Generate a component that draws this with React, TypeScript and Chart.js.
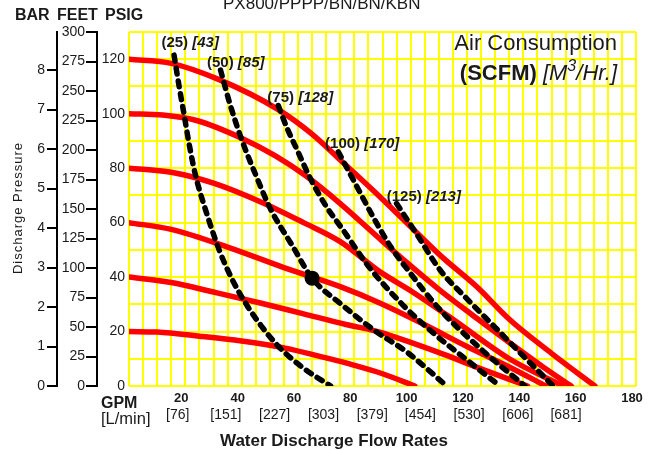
import React, { useEffect, useRef } from "react";
import { Chart, registerables } from "chart.js";

Chart.register(...registerables);

const FONT = '"Liberation Sans", Arial, Helvetica, sans-serif';
const TEXT = "#1a1a1a";
const GRID = "#ffff00";

// Axis ticks
const gpmLabels = [20, 40, 60, 80, 100, 120, 140, 160, 180];
const lpmLabels = [76, 151, 227, 303, 379, 454, 530, 606, 681];
const psiLabels = [0, 20, 40, 60, 80, 100, 120];
const feetTicks = [0, 25, 50, 75, 100, 125, 150, 175, 200, 225, 250, 275, 300];
const barTicks = [0, 1, 2, 3, 4, 5, 6, 7, 8];

// Pump curves at air inlet pressure (psig): [GPM, discharge psig]
const psi20: number[][] = [[0, 20], [10, 19.8], [25, 18.3], [40, 16.5], [55, 14], [70, 10.3], [80, 7.6], [90, 4.5], [101.5, 0]];
const psi40: number[][] = [[0, 40], [15, 38], [30, 34.5], [47, 30.4], [62, 26.5], [77, 22.6], [89, 19.8], [100, 16], [112, 11.5], [125, 6.3], [141.5, 0]];
const psi60: number[][] = [[0, 60], [15, 57.5], [35, 51], [55, 43.5], [75, 36.5], [89, 30.5], [105, 22.5], [120, 14.5], [135, 7], [148, 0]];
const psi80: number[][] = [[0, 80], [15, 78.5], [30, 74.5], [47, 67.5], [62, 60], [75, 53], [89, 42], [100, 35], [115, 24.5], [135, 10], [154, 0]];
const psi100: number[][] = [[0, 100], [12, 99.5], [24, 97.5], [40, 91], [52, 84.5], [63, 77], [75, 67], [88, 55], [99, 45], [110, 35.5], [122, 26], [135, 16], [147, 7], [157, 0]];
const psi120: number[][] = [[0, 120], [15, 118.5], [32, 112.5], [53, 101.5], [65, 92.5], [75, 83], [87, 71.5], [99, 59.5], [111, 47.5], [123.4, 36.5], [135, 24.5], [150, 12], [165.4, 0]];

// Air consumption curves (SCFM): [GPM, discharge psig]
const scfm25: number[][] = [[16, 121.5], [17.8, 110], [19.5, 100], [21.5, 88], [23.7, 77], [27.2, 64.6], [32, 50], [36.7, 39], [41.4, 30.4], [47, 22], [53.2, 14.4], [62, 6.5], [71.6, 0]];
const scfm50: number[][] = [[32.5, 116], [36, 103], [40, 90.5], [45, 77.5], [50, 65.5], [58, 51.5], [65, 39.6], [76, 29.5], [87, 20.5], [98.6, 12.5], [112.8, 0]];
const scfm75: number[][] = [[53, 103], [56, 95], [60, 86], [64, 77], [70, 66], [76, 57.3], [85, 44], [97, 30], [108, 19.5], [120, 9.5], [131.7, 0]];
const scfm100: number[][] = [[74.3, 86], [80, 75], [87, 61.5], [93, 51], [99, 42.6], [110, 28.5], [125, 13.5], [140.6, 0]];
const scfm125: number[][] = [[95, 67], [102, 56], [110.5, 42.5], [120, 32], [130, 21.5], [140, 11], [150.6, 0]];

// Air consumption labels: SCFM, [M3/Hr], anchor [GPM, psig]
const scfmNames = ["(25)", "(50)", "(75)", "(100)", "(125)"];
const m3hNames = ["[43]", "[85]", "[128]", "[170]", "[213]"];
const scfmLabelAt: number[][] = [[11.5, 126], [27.7, 118.6], [49.1, 105.8], [69.6, 89.1], [91.5, 69.5]];

// Operating point
const opPoint = [{ x: 65, y: 39.6 }];

const PSI_PER_BAR = 14.5038;
const FT_PER_PSI = 2.3077;

const toXY = (arr: number[][]) => arr.map(([x, y]) => ({ x, y }));

const redSets = [psi20, psi40, psi60, psi80, psi100, psi120];
const blackSets = [scfm25, scfm50, scfm75, scfm100, scfm125];

const textPlugin = {
  id: "textPlugin",
  afterDraw(chart: any) {
    const ctx = chart.ctx as CanvasRenderingContext2D;
    const xs = chart.scales.x;
    const ys = chart.scales.y;
    ctx.save();
    ctx.fillStyle = TEXT;
    ctx.textBaseline = "alphabetic";
    ctx.textAlign = "left";

    // Top header
    ctx.font = `17px ${FONT}`;
    ctx.fillText("PX800/PPPP/BN/BN/KBN", 223, 9);
    ctx.font = `bold 16px ${FONT}`;
    ctx.fillText("BAR", 15, 19.5);
    ctx.fillText("FEET", 57, 19.5);
    ctx.fillText("PSIG", 105, 19.5);

    // Air consumption legend
    ctx.textAlign = "right";
    ctx.font = `22px ${FONT}`;
    ctx.fillText("Air Consumption", 617, 50);
    ctx.textAlign = "left";
    const parts: [string, string, number][] = [
      ["(SCFM)", `bold 22px ${FONT}`, 0],
      [" [M", `italic 22px ${FONT}`, 0],
      ["3", `italic 16px ${FONT}`, -9],
      ["/Hr.]", `italic 22px ${FONT}`, 0],
    ];
    let total = 0;
    for (const [t, f] of parts) {
      ctx.font = f;
      total += ctx.measureText(t).width;
    }
    let px = 617 - total;
    for (const [t, f, dy] of parts) {
      ctx.font = f;
      ctx.fillText(t, px, 80 + dy);
      px += ctx.measureText(t).width;
    }

    // Air consumption curve labels
    ctx.textBaseline = "middle";
    for (let i = 0; i < scfmNames.length; i++) {
      const lx = xs.getPixelForValue(scfmLabelAt[i][0]);
      const ly = ys.getPixelForValue(scfmLabelAt[i][1]);
      ctx.font = `bold 15px ${FONT}`;
      const a = scfmNames[i] + " ";
      ctx.fillText(a, lx, ly);
      const w = ctx.measureText(a).width;
      ctx.font = `italic bold 15px ${FONT}`;
      ctx.fillText(m3hNames[i], lx + w, ly);
    }

    // Bottom captions
    ctx.textBaseline = "alphabetic";
    ctx.font = `bold 16px ${FONT}`;
    ctx.fillText("GPM", 101, 408);
    ctx.font = `16.5px ${FONT}`;
    ctx.fillText("[L/min]", 101, 424);
    ctx.textAlign = "center";
    ctx.font = `bold 17px ${FONT}`;
    ctx.fillText("Water Discharge Flow Rates", 334, 446);

    // Rotated axis title
    ctx.save();
    ctx.translate(18, 208);
    ctx.rotate(-Math.PI / 2);
    (ctx as any).letterSpacing = "1px";
    ctx.font = `13px ${FONT}`;
    ctx.textAlign = "center";
    ctx.textBaseline = "middle";
    ctx.fillText("Discharge Pressure", 0, 0);
    ctx.restore();

    ctx.restore();
  },
};

export default function App() {
  const ref = useRef<HTMLCanvasElement | null>(null);

  useEffect(() => {
    document.body.style.margin = "0";
    const canvas = ref.current;
    if (!canvas) return;

    const datasets: any[] = [];
    datasets.push({
      type: "scatter",
      data: opPoint,
      pointRadius: 7.5,
      pointBackgroundColor: "#000",
      pointBorderWidth: 0,
      order: 0,
    });
    blackSets.forEach((s) =>
      datasets.push({
        type: "line",
        data: toXY(s),
        borderColor: "#000",
        borderWidth: 5.5,
        borderDash: [6, 7],
        borderCapStyle: "round",
        pointRadius: 0,
        cubicInterpolationMode: "monotone",
        fill: false,
        order: 1,
      })
    );
    redSets.forEach((s) =>
      datasets.push({
        type: "line",
        data: toXY(s),
        borderColor: "#ff0000",
        borderWidth: 5.5,
        borderCapStyle: "round",
        pointRadius: 0,
        cubicInterpolationMode: "monotone",
        fill: false,
        order: 2,
      })
    );

    const tickFont = { family: FONT, size: 14 };

    const chart = new Chart(canvas, {
      type: "line",
      data: { datasets },
      plugins: [textPlugin],
      options: {
        animation: false,
        responsive: false,
        devicePixelRatio: 1,
        layout: { autoPadding: false, padding: { top: 32, right: 21, left: 0, bottom: 22 } },
        plugins: { legend: { display: false }, tooltip: { enabled: false } },
        scales: {
          x: {
            type: "linear",
            position: "bottom",
            min: 0,
            max: 180,
            weight: 0,
            grid: { color: GRID, lineWidth: 2, drawTicks: false },
            border: { display: false },
            ticks: {
              stepSize: 5,
              autoSkip: false,
              maxRotation: 0,
              padding: 5,
              labelOffset: -4,
              color: TEXT,
              font: { family: FONT, size: 13, weight: "bold" },
              callback: (v: any) => (gpmLabels.includes(Number(v)) ? String(v) : ""),
            },
            afterFit: (s: any) => {
              s.height = 20;
            },
          },
          xl: {
            type: "linear",
            position: "bottom",
            min: 0,
            max: 790,
            weight: 1,
            grid: { display: false, drawTicks: false },
            border: { display: false },
            afterBuildTicks: (s: any) => {
              s.ticks = lpmLabels.map((v) => ({ value: v }));
            },
            ticks: {
              autoSkip: false,
              maxRotation: 0,
              padding: 1,
              color: TEXT,
              font: tickFont,
              callback: (v: any) => `[${v}]`,
            },
            afterFit: (s: any) => {
              s.height = 22;
            },
          },
          y: {
            type: "linear",
            position: "left",
            min: 0,
            max: 130,
            weight: 0,
            grid: { color: GRID, lineWidth: 2, drawTicks: false },
            border: { display: false },
            ticks: {
              stepSize: 10,
              autoSkip: false,
              padding: 4,
              color: TEXT,
              font: tickFont,
              callback: (v: any) => (psiLabels.includes(Number(v)) ? String(v) : ""),
            },
            afterFit: (s: any) => {
              s.width = 32;
            },
          },
          yf: {
            type: "linear",
            position: "left",
            min: 0,
            max: 130 * FT_PER_PSI,
            weight: 1,
            grid: { drawOnChartArea: false, drawTicks: true, tickLength: 11, color: "#000", lineWidth: 2 },
            border: { display: true, color: "#000", width: 2 },
            afterBuildTicks: (s: any) => {
              s.ticks = feetTicks.map((v) => ({ value: v }));
            },
            ticks: { autoSkip: false, padding: 1, color: TEXT, font: tickFont },
            afterFit: (s: any) => {
              s.width = 40;
            },
          },
          yb: {
            type: "linear",
            position: "left",
            min: 0,
            max: 130 / PSI_PER_BAR,
            weight: 2,
            grid: { drawOnChartArea: false, drawTicks: true, tickLength: 10, color: "#000", lineWidth: 2 },
            border: { display: true, color: "#000", width: 2 },
            afterBuildTicks: (s: any) => {
              s.ticks = barTicks.map((v) => ({ value: v }));
            },
            ticks: { autoSkip: false, padding: 2, color: TEXT, font: tickFont },
            afterFit: (s: any) => {
              s.width = 57;
            },
          },
        },
      } as any,
    });

    return () => chart.destroy();
  }, []);

  return (
    <canvas
      ref={ref}
      width={657}
      height={450}
      style={{ display: "block", width: 657, height: 450 }}
    />
  );
}
